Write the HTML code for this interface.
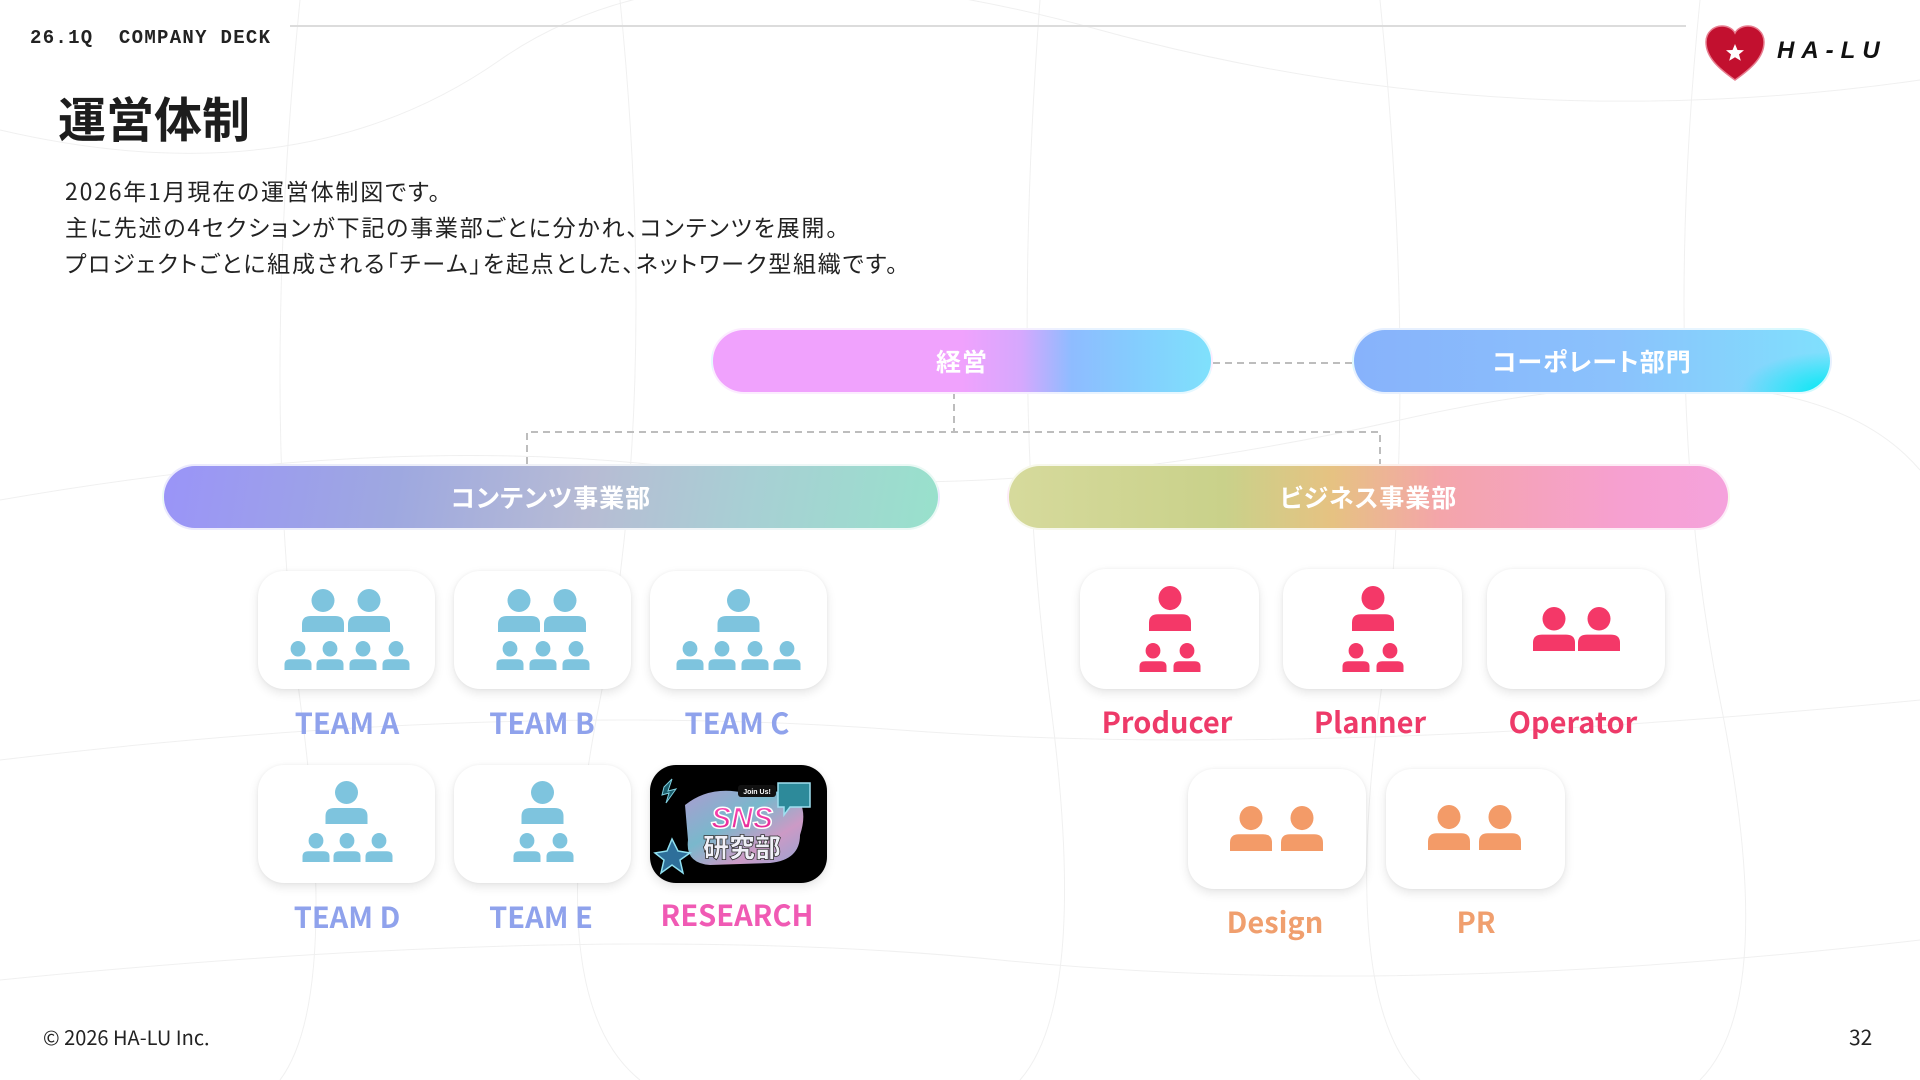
<!DOCTYPE html>
<html><head><meta charset="utf-8">
<style>
*{margin:0;padding:0;box-sizing:border-box}
body{width:1920px;height:1080px;overflow:hidden;background:#fff;position:relative;font-family:"Noto Sans CJK JP","Liberation Sans",sans-serif;color:#222}
.abs{position:absolute}
.bar{position:absolute;height:66px;border-radius:33px;color:#fff;font-weight:700;font-size:25px;display:flex;align-items:center;justify-content:center;letter-spacing:1px;border:2px solid rgba(255,255,255,.8);font-feature-settings:"palt"}
.card{position:absolute;width:177px;height:118px;background:#fff;border-radius:26px;box-shadow:0 4px 10px rgba(0,0,0,.10),0 0 3px rgba(0,0,0,.05)}
.card svg{position:absolute;left:0;top:0}
.lbl{position:absolute;width:240px;text-align:center;font-weight:700;font-size:29px;line-height:1}
.t{color:#8fa2ec}.p{color:#ee3a69}.o{color:#f09f6e}
</style></head><body>
<svg width="0" height="0" style="position:absolute">
<defs>
<symbol id="pp" viewBox="0 0 42 43" preserveAspectRatio="none">
<ellipse cx="21" cy="11.5" rx="11.5" ry="11.5"/>
<path d="M0 43V35Q0 27 9 27H33Q42 27 42 35V43Z"/>
</symbol>
</defs>
</svg>

<svg class="abs" style="left:0;top:0" width="1920" height="1080" fill="none" stroke="#f0f0f0" stroke-width="1">
<path d="M0 500 Q400 430 700 470 T1400 420 T1920 470"/>
<path d="M0 760 Q500 700 900 730 T1920 700"/>
<path d="M0 980 Q600 920 1000 960 T1920 940"/>
<path d="M0 130 Q300 200 500 60 T1100 30 T1920 80"/>
<path d="M300 0 Q260 400 300 700 T280 1080"/>
<path d="M620 0 Q660 400 600 700 T640 1080"/>
<path d="M1040 0 Q1010 400 1050 700 T1020 1080"/>
<path d="M1380 0 Q1420 400 1380 700 T1420 1080"/>
<path d="M1700 0 Q1660 400 1720 700 T1700 1080"/>
</svg>

<div class="abs" style="left:290px;top:25px;width:1396px;height:2px;background:#dcdcdc"></div>
<div class="abs" style="left:30px;top:27px;font-family:'Liberation Mono',monospace;font-weight:700;font-size:19px;letter-spacing:1.3px;color:#222">26.1Q&nbsp;&nbsp;COMPANY DECK</div>

<svg class="abs" style="left:1704px;top:24px" width="62" height="58" viewBox="0 0 62 58">
<path d="M31 56 C14 44 2 33 2 18 C2 8 10 2 18 2 C24 2 29 5 31 9 C33 5 38 2 44 2 C52 2 60 8 60 18 C60 33 48 44 31 56Z" fill="#c2102f" stroke="#e77d8f" stroke-width="1.5"/>
<path d="M31 20 L33.5 26 L40 26.3 L35 30.4 L36.8 36.8 L31 33.2 L25.2 36.8 L27 30.4 L22 26.3 L28.5 26Z" fill="#fff"/>
</svg>
<div class="abs" style="left:1777px;top:37px;font-family:'Liberation Sans',sans-serif;font-style:italic;font-weight:700;font-size:24px;letter-spacing:7px;color:#111">HA-LU</div>

<div class="abs" style="left:58px;top:88px;font-size:48px;font-weight:700;color:#1d1d1d;line-height:1.2">運営体制</div>
<div class="abs" style="left:65px;top:172px;font-size:23px;letter-spacing:1.8px;line-height:36px;color:#222;font-feature-settings:'palt'">2026年1月現在の運営体制図です。<br>主に先述の4セクションが下記の事業部ごとに分かれ、コンテンツを展開。<br>プロジェクトごとに組成される「チーム」を起点とした、ネットワーク型組織です。</div>

<svg class="abs" style="left:0;top:0" width="1920" height="1080" fill="none" stroke="#bdbdbd" stroke-width="2" stroke-dasharray="7 5">
<path d="M1213 363H1352"/>
<path d="M954 392V432"/>
<path d="M527 464V432H1380V464"/>
</svg>

<div class="bar" style="left:711px;top:328px;width:502px;background:linear-gradient(90deg,#f0a2fd 0%,#f0a2fd 50%,#d5a8fd 62%,#8ebcff 72%,#84cdfe 85%,#7fe1fc 100%)">経営</div>
<div class="bar" style="left:1352px;top:328px;width:480px;background:radial-gradient(ellipse 90px 40px at 100% 100%,#00e8f4,rgba(0,232,244,0) 100%),linear-gradient(90deg,#87b2fb,#8bc2fc 55%,#80e0fd)">コーポレート部門</div>
<div class="bar" style="left:162px;top:464px;width:778px;background:linear-gradient(100deg,#9a94f8 0%,#9ea8e0 30%,#b7bcd4 55%,#a8cfd4 75%,#98e1cc 100%)">コンテンツ事業部</div>
<div class="bar" style="left:1007px;top:464px;width:723px;background:linear-gradient(90deg,#d6da9c 0%,#c9d18a 30%,#e6c282 45%,#f4a5aa 60%,#f6a0d0 85%,#f5a2dc 100%)">ビジネス事業部</div>

<div class="card" style="left:258px;top:571px"><svg width="177" height="118" fill="#7ec4de">
<use href="#pp" x="44" y="18" width="42" height="43"/><use href="#pp" x="90" y="18" width="42" height="43"/>
<use href="#pp" x="26.5" y="70" width="27" height="29"/><use href="#pp" x="58.5" y="70" width="27" height="29"/><use href="#pp" x="91.5" y="70" width="27" height="29"/><use href="#pp" x="124.5" y="70" width="27" height="29"/>
</svg></div>
<div class="card" style="left:454px;top:571px"><svg width="177" height="118" fill="#7ec4de">
<use href="#pp" x="44" y="18" width="42" height="43"/><use href="#pp" x="90" y="18" width="42" height="43"/>
<use href="#pp" x="42.5" y="70" width="27" height="29"/><use href="#pp" x="75.5" y="70" width="27" height="29"/><use href="#pp" x="108.5" y="70" width="27" height="29"/>
</svg></div>
<div class="card" style="left:650px;top:571px"><svg width="177" height="118" fill="#7ec4de">
<use href="#pp" x="67.5" y="18" width="42" height="43"/>
<use href="#pp" x="26.5" y="70" width="27" height="29"/><use href="#pp" x="58.5" y="70" width="27" height="29"/><use href="#pp" x="91.5" y="70" width="27" height="29"/><use href="#pp" x="123.5" y="70" width="27" height="29"/>
</svg></div>
<div class="card" style="left:258px;top:765px"><svg width="177" height="118" fill="#7ec4de">
<use href="#pp" x="67.5" y="16" width="42" height="43"/>
<use href="#pp" x="44.5" y="68" width="27" height="29"/><use href="#pp" x="75.5" y="68" width="27" height="29"/><use href="#pp" x="107.5" y="68" width="27" height="29"/>
</svg></div>
<div class="card" style="left:454px;top:765px"><svg width="177" height="118" fill="#7ec4de">
<use href="#pp" x="67.5" y="16" width="42" height="43"/>
<use href="#pp" x="59.5" y="68" width="27" height="29"/><use href="#pp" x="92.5" y="68" width="27" height="29"/>
</svg></div>
<div class="card" style="left:650px;top:765px;background:#000;overflow:hidden">
<svg width="177" height="118" viewBox="0 0 177 118">
<defs><linearGradient id="holo" x1="0" y1="0" x2="1" y2="1"><stop offset="0" stop-color="#c9b8f5"/><stop offset=".4" stop-color="#8fd8f0"/><stop offset=".7" stop-color="#f0b5e8"/><stop offset="1" stop-color="#b0c0f8"/></linearGradient>
<linearGradient id="pk" x1="0" y1="0" x2="0" y2="1"><stop offset="0" stop-color="#ff4fb8"/><stop offset="1" stop-color="#e0208f"/></linearGradient></defs>
<path d="M35 40 Q60 20 95 28 L140 26 Q160 40 150 70 Q150 95 120 98 L60 100 Q35 98 38 75 Z" fill="url(#holo)" opacity=".85"/>
<rect x="88" y="20" width="38" height="12" rx="3" fill="#111"/>
<text x="107" y="29" font-family="Liberation Sans,sans-serif" font-size="7" font-weight="700" fill="#fff" text-anchor="middle">Join Us!</text>
<path d="M128 18 H160 V42 H140 L134 50 L134 42 H128Z" fill="#2d8a9a" stroke="#9fe0f0" stroke-width="1.5"/>
<path d="M14 22 L22 14 L18 26 L26 24 L16 38 L19 28 L12 30Z" fill="#1a5c6a" stroke="#7fd0e0" stroke-width="1"/>
<path d="M22 74 L28 86 L40 88 L30 95 L33 108 L22 100 L11 108 L14 95 L5 88 L17 86Z" fill="#2e6f9a" stroke="#8fe0f0" stroke-width="1.5"/>
<text x="92" y="63" font-family="Liberation Sans,sans-serif" font-size="30" font-weight="900" font-style="italic" fill="url(#pk)" stroke="#fff" stroke-width="1.5" text-anchor="middle">SNS</text>
<text x="92" y="92" font-family="Noto Sans CJK JP,sans-serif" font-size="26" font-weight="900" fill="#f0f0f8" stroke="#333" stroke-width=".8" text-anchor="middle">研究部</text>
</svg></div>

<div class="lbl t" style="left:227px;top:708px">TEAM A</div>
<div class="lbl t" style="left:422px;top:708px">TEAM B</div>
<div class="lbl t" style="left:617px;top:708px">TEAM C</div>
<div class="lbl t" style="left:227px;top:902px">TEAM D</div>
<div class="lbl t" style="left:421px;top:902px">TEAM E</div>
<div class="lbl" style="left:617px;top:900px;color:#f05ab4">RESEARCH</div>

<div class="card" style="left:1080px;top:569px;width:179px;height:120px"><svg width="179" height="120" fill="#f43868">
<use href="#pp" x="69" y="17" width="42" height="45"/>
<use href="#pp" x="59.5" y="74" width="27" height="29"/><use href="#pp" x="93.5" y="74" width="27" height="29"/>
</svg></div>
<div class="card" style="left:1283px;top:569px;width:179px;height:120px"><svg width="179" height="120" fill="#f43868">
<use href="#pp" x="69" y="17" width="42" height="45"/>
<use href="#pp" x="59.5" y="74" width="27" height="29"/><use href="#pp" x="93.5" y="74" width="27" height="29"/>
</svg></div>
<div class="card" style="left:1487px;top:569px;width:178px;height:120px"><svg width="178" height="120" fill="#f43868">
<use href="#pp" x="46" y="38" width="42" height="44"/><use href="#pp" x="91" y="38" width="42" height="44"/>
</svg></div>
<div class="card" style="left:1188px;top:769px;width:178px;height:120px"><svg width="178" height="120" fill="#f39b68">
<use href="#pp" x="42" y="37" width="42" height="45"/><use href="#pp" x="93" y="37" width="42" height="45"/>
</svg></div>
<div class="card" style="left:1386px;top:769px;width:179px;height:120px"><svg width="179" height="120" fill="#f39b68">
<use href="#pp" x="42" y="36" width="42" height="45"/><use href="#pp" x="93" y="36" width="42" height="45"/>
</svg></div>

<div class="lbl p" style="left:1047px;top:707px">Producer</div>
<div class="lbl p" style="left:1250px;top:707px">Planner</div>
<div class="lbl p" style="left:1453px;top:707px">Operator</div>
<div class="lbl o" style="left:1155px;top:907px">Design</div>
<div class="lbl o" style="left:1356px;top:907px">PR</div>

<div class="abs" style="left:43px;top:1022px;font-size:20px;color:#222">© 2026 HA-LU Inc.</div>
<div class="abs" style="left:1849px;top:1022px;font-size:21px;color:#222">32</div>
</body></html>
